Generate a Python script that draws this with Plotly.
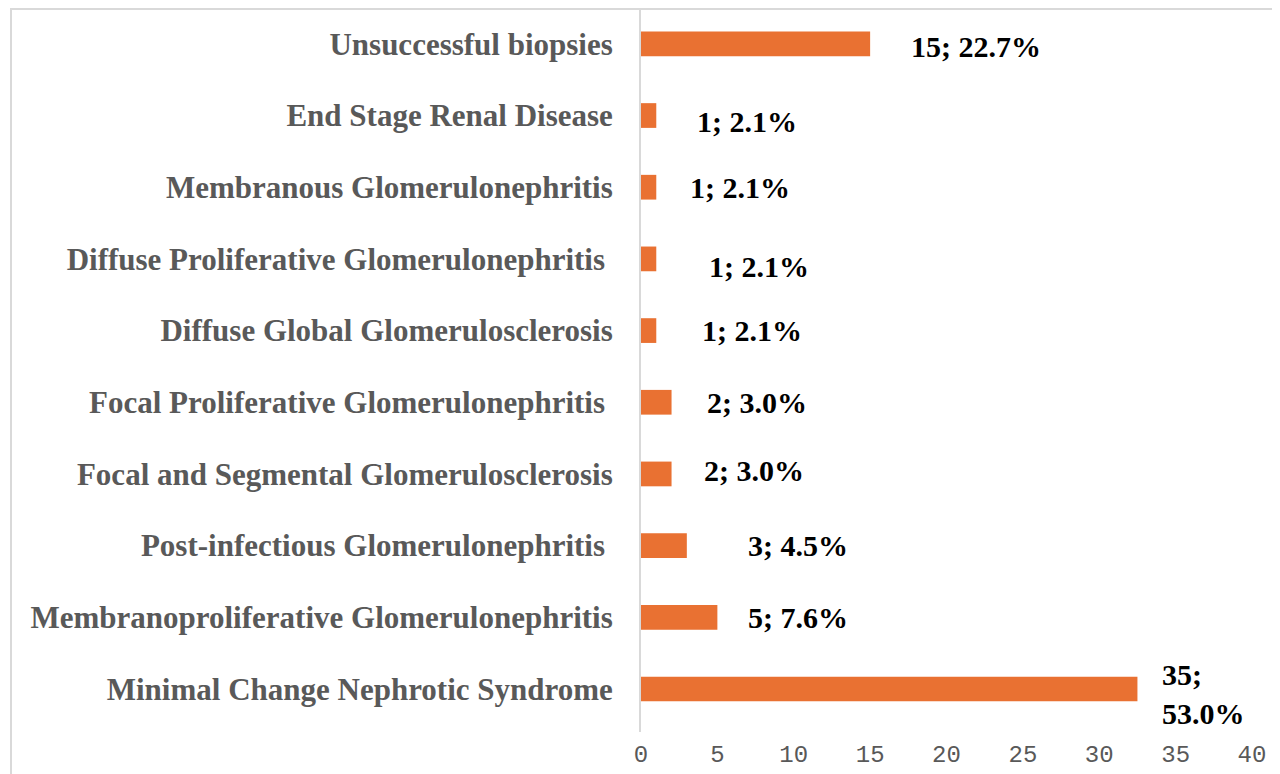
import plotly.graph_objects as go

# Categories, bottom to top
categories = [
    "Minimal Change Nephrotic Syndrome",
    "Membranoproliferative Glomerulonephritis",
    "Post-infectious Glomerulonephritis\u00a0",
    "Focal and Segmental Glomerulosclerosis",
    "Focal Proliferative Glomerulonephritis\u00a0",
    "Diffuse Global Glomerulosclerosis",
    "Diffuse Proliferative Glomerulonephritis\u00a0",
    "Membranous Glomerulonephritis",
    "End Stage Renal Disease",
    "Unsuccessful biopsies",
]
# bar lengths as drawn in the picture
bar_values = [32.5, 5, 3, 2, 2, 1, 1, 1, 1, 15]
# data label texts
counts = ["35", "5", "3", "2", "2", "1", "1", "1", "1", "15"]
percents = ["53.0%", "7.6%", "4.5%", "3.0%", "3.0%", "2.1%", "2.1%", "2.1%", "2.1%", "22.7%"]
x_ticks = [0, 5, 10, 15, 20, 25, 30, 35, 40]

# label placement offsets (px) - layout only
label_xshift = [23, 29, 59, 30, 33, 44, 51, 32, 39, 39]
label_yshift = [-5, 0, 0, 3, 0, 0, -8, 0, -6, -3]

BAR = "#E97132"
GREY = "#595959"
FRAME = "#D9D9D9"

# figure is placed at an 8px page offset by the browser
W, H = 1272, 766
L, R, T, B = 633, 28, 0, 42
PW, PH = W - L - R, H - T - B

fig = go.Figure(go.Bar(
    x=bar_values,
    y=categories,
    orientation="h",
    marker=dict(color=BAR, line=dict(width=0)),
    hoverinfo="skip",
))

annotations = []
for i, (c, v) in enumerate(zip(categories, bar_values)):
    if i == 0:
        txt = f"{counts[i]};<br>{percents[i]}"
    else:
        txt = f"{counts[i]}; {percents[i]}"
    annotations.append(dict(
        x=v, y=c, xref="x", yref="y", text=txt, showarrow=False,
        xanchor="left", yanchor="middle", align="left",
        xshift=label_xshift[i], yshift=label_yshift[i],
        font=dict(family="Liberation Serif", size=30, color="black", weight="bold"),
    ))

fig.update_layout(
    width=W, height=H,
    margin=dict(l=L, r=R, t=T, b=B, autoexpand=False),
    plot_bgcolor="white", paper_bgcolor="white",
    bargap=0.655, showlegend=False,
    annotations=annotations,
    xaxis=dict(
        range=[0, 40], tickvals=x_ticks, showgrid=False, zeroline=False,
        showline=False, ticks="",
        tickfont=dict(family="Liberation Mono", size=24, color=GREY),
        ticklabelstandoff=5,
    ),
    yaxis=dict(
        categoryorder="array", categoryarray=categories,
        showgrid=False, zeroline=False, showline=True,
        linecolor=FRAME, linewidth=2, ticks="",
        tickfont=dict(family="Liberation Serif", size=31, color=GREY, weight="bold"),
        ticklabelstandoff=20,
    ),
    shapes=[
        dict(type="rect", xref="paper", yref="paper",
             x0=(3 - L) / PW, x1=(1271 - L) / PW,
             y0=-0.1, y1=1.0 - 1.0 / PH, line=dict(color=FRAME, width=2),
             layer="below", fillcolor="rgba(0,0,0,0)"),
    ],
)

fig.write_html("out.html")
